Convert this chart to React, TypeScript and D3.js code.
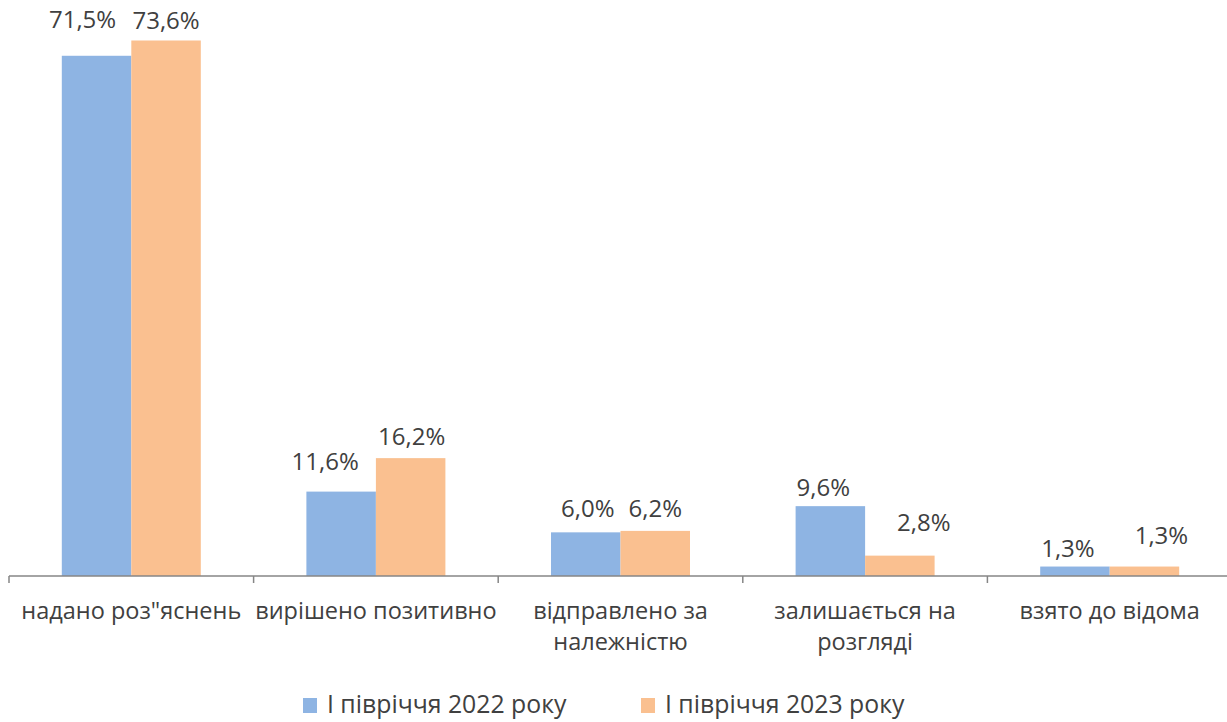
import React, { useEffect, useRef } from "react";
import * as d3 from "d3";

const categories = [
  ["надано роз\"яснень"],
  ["вирішено позитивно"],
  ["відправлено за", "належністю"],
  ["залишається на", "розгляді"],
  ["взято до відома"],
];
const seriesNames = ["І півріччя 2022 року", "І півріччя 2023 року"];
const values2022 = [71.5, 11.6, 6.0, 9.6, 1.3];
const values2023 = [73.6, 16.2, 6.2, 2.8, 1.3];
const colors = ["#8EB4E3", "#FAC090"];
// the original labels were moved by hand: gap above the bar and sideways shift
const labelGap2022 = [36, 30, 23, 18, 18];
const labelGap2023 = [20, 21, 22, 33, 31];
const labelShift2022 = [-14, -16, 2, -7, -7];
const labelShift2023 = [0, 1, 0, 24, 17];

export default function App() {
  const ref = useRef<SVGSVGElement>(null);

  useEffect(() => {
    const width = 1227;
    const height = 722;
    const left = 9;
    const right = 1232;
    const base = 576;
    const font = "Open Sans, sans-serif";

    const svg = d3.select(ref.current);
    svg.selectAll("*").remove();

    const x = d3.scaleBand()
      .domain(categories.map((c, i) => String(i)))
      .range([left, right]);

    const y = d3.scaleLinear()
      .domain([0, 73.6])
      .range([base, 40.5]);

    const barW = 69.5;
    const series = [values2022, values2023];
    const gaps = [labelGap2022, labelGap2023];
    const shifts = [labelShift2022, labelShift2023];

    series.forEach((vals, s) => {
      const g = svg.append("g");
      g.selectAll("rect")
        .data(vals)
        .enter().append("rect")
        .attr("x", (d, i) => x(String(i))! + x.bandwidth() / 2 - barW + s * barW)
        .attr("y", d => y(d))
        .attr("width", barW)
        .attr("height", d => base - y(d))
        .style("fill", colors[s]);

      g.selectAll("text")
        .data(vals)
        .enter().append("text")
        .attr("x", (d, i) => x(String(i))! + x.bandwidth() / 2 - barW / 2 + s * barW + shifts[s][i])
        .attr("y", (d, i) => y(d) - gaps[s][i] + 8)
        .attr("text-anchor", "middle")
        .style("font-family", font)
        .style("font-size", "24px")
        .style("fill", "#404040")
        .text(d => d.toFixed(1).replace(".", ",") + "%");
    });

    // axis
    const axis = svg.append("g");
    axis.append("line")
      .attr("x1", left).attr("x2", right)
      .attr("y1", base).attr("y2", base)
      .style("stroke", "#868686").style("stroke-width", 1.5);
    axis.selectAll(".tick")
      .data(categories)
      .enter().append("line")
      .attr("x1", (c, i) => x(String(i))!)
      .attr("x2", (c, i) => x(String(i))!)
      .attr("y1", base).attr("y2", base + 7)
      .style("stroke", "#868686").style("stroke-width", 1.5);

    const labels = axis.selectAll(".cat")
      .data(categories)
      .enter().append("text")
      .attr("text-anchor", "middle")
      .style("font-family", font)
      .style("font-size", "23.5px")
      .style("fill", "#404040");
    labels.each(function (c, i) {
      const t = d3.select(this);
      c.forEach((line, k) => {
        t.append("tspan")
          .attr("x", x(String(i))! + x.bandwidth() / 2)
          .attr("y", 619 + k * 31)
          .text(line);
      });
    });

    // legend
    const legX = [303, 641];
    seriesNames.forEach((name, s) => {
      svg.append("rect")
        .attr("x", legX[s]).attr("y", 698)
        .attr("width", 14).attr("height", 15)
        .style("fill", colors[s]);
      svg.append("text")
        .attr("x", legX[s] + 24).attr("y", 713)
        .style("font-family", font)
        .style("font-size", "24.8px")
        .style("fill", "#404040")
        .text(name);
    });

    svg.attr("width", width).attr("height", height);
  }, []);

  return (
    <svg ref={ref} width={1227} height={722}
      style={{ position: "absolute", left: 0, top: 0, background: "#fff" }} />
  );
}
